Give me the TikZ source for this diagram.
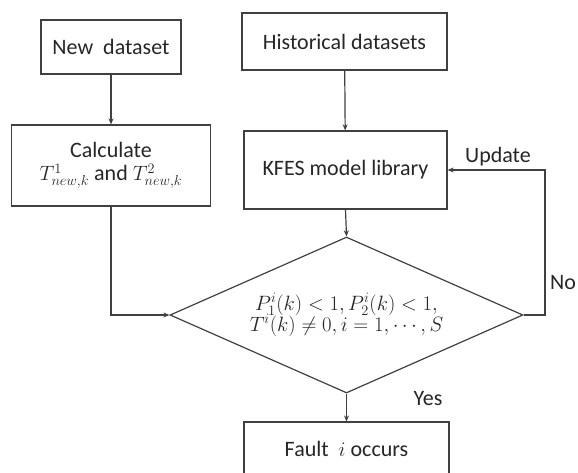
\documentclass[tikz,border=0pt]{standalone}
\usepackage{fontspec}
\setmainfont{Carlito}
\usetikzlibrary{shapes.geometric,arrows.meta}

\begin{document}
\begin{tikzpicture}[x=1pt, y=-1pt, line width=1.2pt, draw=black!75,
    font=\fontsize{22}{25}\selectfont, text=black!85,
    >={Stealth[length=6pt,width=5pt]},
    box/.style={draw, rectangle, inner sep=0pt, align=center},
    decision/.style={draw, diamond, aspect=2.26, inner sep=0pt,
        minimum width=353pt, minimum height=156pt, align=center,
        font=\fontsize{20}{23}\selectfont}]
    \useasboundingbox (0,0) rectangle (578,472);

    % data sources
    \node[box, minimum width=140pt, minimum height=54pt] (newds) at (111,47) {New~~dataset};
    \node[box, minimum width=205pt, minimum height=57pt] (hist) at (344.5,41.5) {Historical datasets};

    % second row
    \node[box, minimum width=199pt, minimum height=81pt] (calc) at (111,165.5)
        {Calculate\\[-2pt]$T^{1}_{new,k}$ and $T^{2}_{new,k}$};
    \node[box, minimum width=203pt, minimum height=78pt] (kfes) at (345.5,170) {KFES model library};

    % decision and result
    \node[decision] (dec) at (346.5,315)
        {$P^{i}_{1}(k)<1,P^{i}_{2}(k)<1,$\\[-2pt]$T^{i}(k)\neq 0,i=1,\cdots,S$};
    \node[box, minimum width=205pt, minimum height=54pt] (fault) at (346.5,449) {Fault~~$i$ occurs};

    % connectors
    \draw[->] (newds) -- (calc);
    \draw[->] (hist) -- (kfes);
    \draw[->] (kfes.south) -- (dec.north);
    \draw[->] (calc.south) |- (dec.west);
    \draw[->] (dec.south) -- (fault.north);
    \coordinate (loop) at (545,315);
    \draw[->] (dec.east) -- (loop) |- (kfes.east);

    % labels
    \node (upd) at (498,157) {Update};
    \node (no) at (563,283) {No};
    \node (yes) at (428,399) {Yes};
\end{tikzpicture}
\end{document}
